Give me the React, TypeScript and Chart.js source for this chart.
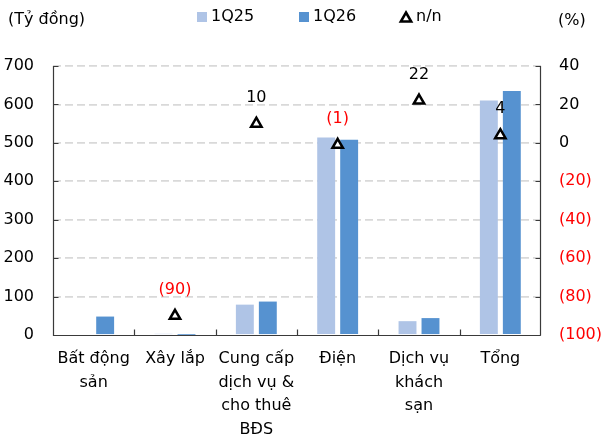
import { useEffect, useRef } from "react";
import { Chart, registerables } from "chart.js";

Chart.register(...registerables);

// Revenue by segment (billion VND) and year-on-year change (%)
const categories: (string | string[])[] = [
  ["Bất động", "sản"],
  "Xây lắp",
  ["Cung cấp", "dịch vụ &", "cho thuê", "BĐS"],
  "Điện",
  ["Dịch vụ", "khách", "sạn"],
  "Tổng",
];
const revenue1Q25: (number | null)[] = [null, 3, 79, 514, 36, 610];
const revenue1Q26: (number | null)[] = [48, 0.3, 87, 508, 44, 635];
const growthYoY: (number | null)[] = [null, -90, 10, -1, 22, 4];

const seriesLabels = ["1Q25", "1Q26", "n/n"];
const leftUnit = "(Tỷ đồng)";
const rightUnit = "(%)";

const leftAxis = { min: 0, max: 700, step: 100 };
const rightAxis = { min: -100, max: 40, step: 20 };

const FONT = "DejaVu Sans";
const LIGHT = "#AFC4E6";
const DARK = "#5692D0";
const RED = "#FF0000";
const AXIS = "#3A3A3A";
const GRID = "#D9D9D9";

const pct = (v: number) => (v < 0 ? `(${Math.abs(v)})` : `${v}`);

function drawTriangle(ctx: CanvasRenderingContext2D, cx: number, cy: number, r: number) {
  ctx.beginPath();
  ctx.moveTo(cx, cy - r);
  ctx.lineTo(cx + r * Math.sin((2 * Math.PI) / 3), cy - r * Math.cos((2 * Math.PI) / 3));
  ctx.lineTo(cx + r * Math.sin((4 * Math.PI) / 3), cy - r * Math.cos((4 * Math.PI) / 3));
  ctx.closePath();
  ctx.fillStyle = "#FFFFFF";
  ctx.fill();
  ctx.lineWidth = 2.5;
  ctx.strokeStyle = "#000000";
  ctx.stroke();
}

const decorations = {
  id: "decorations",
  afterDatasetsDraw(chart: any) {
    const { ctx, chartArea: a, scales } = chart;
    const xs = scales.x;
    const ys = scales.y;
    const ys1 = scales.y1;
    ctx.save();

    // axis lines
    ctx.strokeStyle = AXIS;
    ctx.lineWidth = 1.2;
    const L = Math.round(a.left) + 0.5;
    const R = Math.round(a.right) - 0.5;
    const B = Math.round(a.bottom) + 0.5;
    ctx.beginPath();
    ctx.moveTo(L, a.top);
    ctx.lineTo(L, B);
    ctx.lineTo(R, B);
    ctx.moveTo(R, a.top);
    ctx.lineTo(R, B);
    ctx.stroke();

    // inner tick marks
    ctx.beginPath();
    for (let v = leftAxis.min; v <= leftAxis.max; v += leftAxis.step) {
      const py = Math.round(ys.getPixelForValue(v)) + 0.5;
      ctx.moveTo(L, py);
      ctx.lineTo(L + 5, py);
    }
    for (let v = rightAxis.min; v <= rightAxis.max; v += rightAxis.step) {
      const py = Math.round(ys1.getPixelForValue(v)) + 0.5;
      ctx.moveTo(R - 5, py);
      ctx.lineTo(R, py);
    }
    const n = categories.length;
    const catW = (a.right - a.left) / n;
    for (let i = 1; i < n; i++) {
      const px = Math.round(xs.getPixelForValue(i) - catW / 2) + 0.5;
      ctx.moveTo(px, B);
      ctx.lineTo(px, B - 6);
    }
    ctx.stroke();

    // value labels above the change markers
    const meta = chart.getDatasetMeta(0);
    ctx.font = `16px "${FONT}"`;
    ctx.textAlign = "center";
    ctx.textBaseline = "middle";
    meta.data.forEach((pt: any, i: number) => {
      const v = growthYoY[i];
      if (v == null) return;
      ctx.fillStyle = v < 0 ? RED : "#000000";
      ctx.fillText(pct(v), pt.x, pt.y - 26);
    });
    ctx.restore();
  },
  afterDraw(chart: any) {
    const { ctx } = chart;
    ctx.save();
    ctx.font = `16px "${FONT}"`;
    ctx.textBaseline = "middle";
    ctx.textAlign = "left";
    ctx.fillStyle = "#000000";
    ctx.fillText(leftUnit, 8, 20);
    ctx.fillText(rightUnit, 558, 21);

    // legend
    const ly = 17;
    ctx.fillStyle = LIGHT;
    ctx.fillRect(197, ly - 5, 10, 10);
    ctx.fillStyle = DARK;
    ctx.fillRect(299, ly - 5, 10, 10);
    drawTriangle(ctx, 406, ly + 1.5, 6);
    ctx.fillStyle = "#000000";
    ctx.fillText(seriesLabels[0], 211, ly);
    ctx.fillText(seriesLabels[1], 313, ly);
    ctx.fillText(seriesLabels[2], 416, ly);
    ctx.restore();
  },
};

export default function App() {
  const ref = useRef<HTMLCanvasElement>(null);

  useEffect(() => {
    document.body.style.margin = "0";
    const canvas = ref.current;
    if (!canvas) return;
    const chart = new Chart(canvas, {
      type: "bar",
      data: {
        labels: categories,
        datasets: [
          {
            type: "line",
            label: seriesLabels[2],
            data: growthYoY,
            yAxisID: "y1",
            showLine: false,
            pointStyle: "triangle",
            pointRadius: 6,
            pointHoverRadius: 6,
            pointBackgroundColor: "#FFFFFF",
            pointBorderColor: "#000000",
            pointBorderWidth: 2.5,
            order: 0,
          },
          {
            label: seriesLabels[0],
            data: revenue1Q25,
            backgroundColor: LIGHT,
            yAxisID: "y",
            categoryPercentage: 0.565,
            barPercentage: 0.78,
            order: 1,
          },
          {
            label: seriesLabels[1],
            data: revenue1Q26,
            backgroundColor: DARK,
            yAxisID: "y",
            categoryPercentage: 0.565,
            barPercentage: 0.78,
            order: 2,
          },
        ],
      } as any,
      options: {
        responsive: false,
        animation: false,
        layout: { padding: { top: 66, left: 0, right: 0, bottom: 0 } },
        plugins: {
          legend: { display: false },
          tooltip: { enabled: false },
        },
        scales: {
          x: {
            type: "category",
            offset: true,
            grid: { display: false, drawTicks: false },
            border: { display: false },
            ticks: {
              color: "#000000",
              font: { family: FONT, size: 16, lineHeight: 1.48 },
              padding: 12,
              maxRotation: 0,
              autoSkip: false,
            },
            afterFit: (s: any) => {
              s.height = 100;
            },
          },
          y: {
            position: "left",
            min: leftAxis.min,
            max: leftAxis.max,
            grid: {
              drawTicks: false,
              lineWidth: 1.8,
              color: (c: any) => (c.tick && c.tick.value === 0 ? "rgba(0,0,0,0)" : GRID),
            },
            border: { display: false, dash: [8, 4] },
            ticks: {
              stepSize: leftAxis.step,
              padding: 19,
              color: "#000000",
              font: { family: FONT, size: 16 },
            },
            afterFit: (s: any) => {
              s.width = 53;
            },
          },
          y1: {
            position: "right",
            min: rightAxis.min,
            max: rightAxis.max,
            grid: { display: false, drawTicks: false },
            border: { display: false },
            ticks: {
              stepSize: rightAxis.step,
              padding: 18,
              callback: (v: any) => pct(Number(v)),
              color: (c: any) => (c.tick && c.tick.value < 0 ? RED : "#000000"),
              font: { family: FONT, size: 16 },
            },
            afterFit: (s: any) => {
              s.width = 63;
            },
          },
        },
      } as any,
      plugins: [decorations],
    });
    return () => chart.destroy();
  }, []);

  return (
    <div style={{ width: 604, height: 435 }}>
      <canvas ref={ref} width={604} height={435} />
    </div>
  );
}
